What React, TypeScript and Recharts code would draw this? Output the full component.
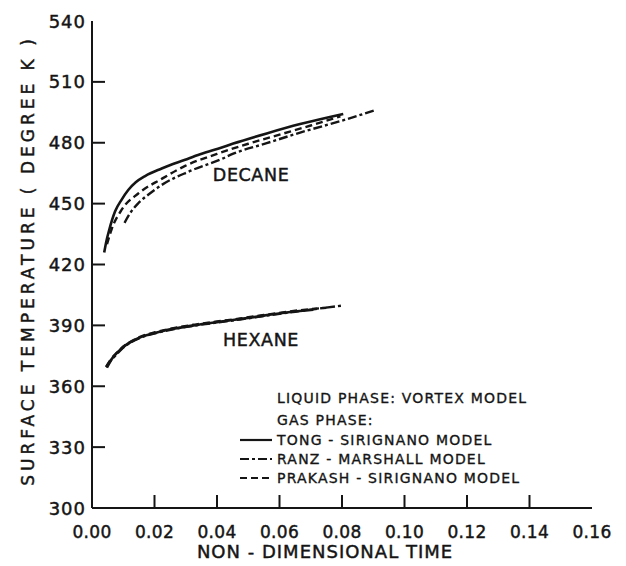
import React from 'react';
import { LineChart, Line, XAxis, YAxis, ReferenceDot } from 'recharts';

const INK = '#151515';
const FONT = "'DejaVu Sans', 'Liberation Sans', sans-serif";
const TEXT_STROKE = 0.45;

const xTickValues = [0, 0.02, 0.04, 0.06, 0.08, 0.1, 0.12, 0.14, 0.16];
const xTickLabels = ['0.00', '0.02', '0.04', '0.06', '0.08', '0.10', '0.12', '0.14', '0.16'];
const yTickValues = [300, 330, 360, 390, 420, 450, 480, 510, 540];

const xTitle = 'NON - DIMENSIONAL TIME';
const yTitle = 'SURFACE TEMPERATURE  ( DEGREE K )';

// DECANE
const decaneTongTime = [0.0039, 0.0046, 0.0055, 0.0074, 0.0095, 0.0116, 0.014, 0.017, 0.0223, 0.0298, 0.0346, 0.0415, 0.0452, 0.0559, 0.0666, 0.0804];
const decaneTongTemp = [425.9, 431.5, 437, 446.2, 452, 456.7, 460.5, 463.6, 467.3, 471.6, 474.3, 477.7, 479.6, 484.6, 489.2, 494.2];

const decanePrakashTime = [0.0048, 0.0063, 0.0095, 0.0148, 0.0223, 0.0298, 0.04, 0.05, 0.06, 0.07, 0.0795];
const decanePrakashTemp = [430, 437.5, 447, 455, 462.2, 468.6, 474.5, 479.5, 484, 488.5, 493];

const decaneRanzTime = [0.0104, 0.0125, 0.0148, 0.0185, 0.0223, 0.0308, 0.0415, 0.0452, 0.0559, 0.0666, 0.0815, 0.091];
const decaneRanzTemp = [440.5, 446, 450.2, 455, 459.2, 465.7, 472, 474.6, 479.8, 485, 491.6, 496.3];

// HEXANE
const hexaneTongTime = [0.0045, 0.006, 0.0074, 0.0095, 0.0116, 0.015, 0.0202, 0.026, 0.033, 0.04, 0.0474, 0.055, 0.0634, 0.0708];
const hexaneTongTemp = [369.4, 372.8, 375.5, 378.6, 381.1, 383.8, 386.3, 388.3, 390.1, 391.6, 393.1, 394.8, 396.6, 397.7];

const hexanePrakashTime = [0.0046, 0.006, 0.0076, 0.0095, 0.012, 0.015, 0.0202, 0.026, 0.033, 0.04, 0.0474, 0.055, 0.0634, 0.075];
const hexanePrakashTemp = [369.8, 373.2, 376, 378.9, 381.6, 384.1, 386.6, 388.6, 390.4, 391.9, 393.4, 395.1, 396.9, 398.7];

const hexaneRanzTime = [0.0048, 0.006, 0.0078, 0.0095, 0.012, 0.015, 0.0202, 0.026, 0.033, 0.04, 0.0474, 0.055, 0.0634, 0.0715, 0.0804];
const hexaneRanzTemp = [369.2, 372.4, 375.6, 378.3, 381.2, 383.6, 386.1, 388.1, 389.9, 391.4, 392.9, 394.6, 396.4, 398.1, 399.8];

const legendHeader = ['LIQUID PHASE: VORTEX MODEL', 'GAS PHASE:'];
const seriesNames = ['TONG - SIRIGNANO  MODEL', 'RANZ - MARSHALL  MODEL', 'PRAKASH - SIRIGNANO  MODEL'];
const seriesDash = ['', '9 3 3 3', '7 4'];

const zip = (ts: number[], ks: number[]) => ts.map((t, i) => ({ t, k: ks[i] }));

const series = [
  { key: 'dT', data: zip(decaneTongTime, decaneTongTemp), s: 0 },
  { key: 'dR', data: zip(decaneRanzTime, decaneRanzTemp), s: 1 },
  { key: 'dP', data: zip(decanePrakashTime, decanePrakashTemp), s: 2 },
  { key: 'hT', data: zip(hexaneTongTime, hexaneTongTemp), s: 0 },
  { key: 'hR', data: zip(hexaneRanzTime, hexaneRanzTemp), s: 1 },
  { key: 'hP', data: zip(hexanePrakashTime, hexanePrakashTemp), s: 2 },
];

const TICK = 13;

const BottomTick = (props: any) => {
  const { x, y, payload, index } = props;
  const axisY = y - 8;
  const v = payload.value;
  const inner = v > 0.0001 && v < 0.1599;
  return (
    <g>
      {inner && <line x1={x} x2={x} y1={axisY} y2={axisY - TICK} stroke={INK} strokeWidth={2} />}
      <text x={x} y={axisY + 30} textAnchor="middle" fill={INK} stroke={INK} strokeWidth={TEXT_STROKE}
        fontFamily={FONT} fontSize={17} letterSpacing={0.3}>
        {xTickLabels[index] ?? v.toFixed(2)}
      </text>
    </g>
  );
};

const LeftTick = (props: any) => {
  const { x, y, payload } = props;
  const axisX = x + 6;
  const v = payload.value;
  const inner = v > 300 && v < 540;
  return (
    <g>
      {inner && <line x1={axisX} x2={axisX + TICK} y1={y} y2={y} stroke={INK} strokeWidth={2} />}
      <text x={x} y={y + 6.5} textAnchor="end" fill={INK} stroke={INK} strokeWidth={TEXT_STROKE}
        fontFamily={FONT} fontSize={18} letterSpacing={1}>
        {v}
      </text>
    </g>
  );
};

const RightTick = (props: any) => {
  const { x, y, payload } = props;
  const v = payload.value;
  const inner = v > 300 && v < 540;
  return inner ? <line x1={x} x2={x - TICK} y1={y} y2={y} stroke={INK} strokeWidth={2} /> : <g />;
};

const YTitle = (props: any) => {
  const vb = props.viewBox;
  const cx = vb.x + 16;
  const cy = vb.y + vb.height / 2 - 4;
  return (
    <text x={cx} y={cy} transform={`rotate(-90 ${cx} ${cy})`} textAnchor="middle" dominantBaseline="central"
      fill={INK} stroke={INK} strokeWidth={TEXT_STROKE} fontFamily={FONT} fontSize={17} letterSpacing={4}>
      {yTitle}
    </text>
  );
};

const XTitle = (props: any) => {
  const vb = props.viewBox;
  return (
    <text x={vb.x + vb.width / 2 - 17} y={vb.y + 50} textAnchor="middle" fill={INK} stroke={INK} strokeWidth={TEXT_STROKE}
      fontFamily={FONT} fontSize={18} letterSpacing={1}>
      {xTitle}
    </text>
  );
};

const makeTag = (txt: string) => (props: any) => {
  const vb = props.viewBox;
  const cx = vb.x + (vb.width || 0) / 2;
  const cy = vb.y + (vb.height || 0) / 2;
  return (
    <text x={cx} y={cy} textAnchor="middle" dominantBaseline="central" fill={INK} stroke={INK} strokeWidth={TEXT_STROKE}
      fontFamily={FONT} fontSize={17.5} letterSpacing={0.6}>
      {txt}
    </text>
  );
};

const legendRow = (top: number, text: string, dash: string | null) => (
  <div key={text} style={{ position: 'absolute', left: 232, top: top - 10, height: 20, display: 'flex', alignItems: 'center', whiteSpace: 'nowrap' }}>
    <svg width={34} height={6} style={{ marginRight: 3, visibility: dash === null ? 'hidden' : 'visible' }}>
      <line x1={0} x2={32} y1={3} y2={3} stroke={INK} strokeWidth={2.2} strokeDasharray={dash || undefined} />
    </svg>
    <span style={{ fontFamily: FONT, fontSize: 14, letterSpacing: 1.2, color: INK, WebkitTextStroke: '0.35px #151515' }}>{text}</span>
  </div>
);

export default function App() {
  return (
    <div style={{ position: 'relative', width: 618, height: 558 }}>
      <LineChart width={618} height={558} margin={{ top: 13, right: 34, bottom: 0, left: 4 }}>
        <XAxis xAxisId="bottom" dataKey="t" type="number" domain={[0, 0.16]} allowDataOverflow ticks={xTickValues}
          interval={0} tick={<BottomTick />} tickSize={0} tickMargin={8} tickLine={false} height={58}
          axisLine={{ stroke: INK, strokeWidth: 2 }} label={<XTitle />} />
        <XAxis xAxisId="top" orientation="top" dataKey="t" type="number" domain={[0, 0.16]} allowDataOverflow
          ticks={xTickValues} tick={false} tickLine={false} height={0} axisLine={{ stroke: INK, strokeWidth: 2 }} />
        <YAxis yAxisId="left" type="number" domain={[300, 540]} allowDataOverflow ticks={yTickValues} interval={0}
          tick={<LeftTick />} tickSize={0} tickMargin={6} tickLine={false} width={80}
          axisLine={{ stroke: INK, strokeWidth: 2 }} label={<YTitle />} />
        <YAxis yAxisId="right" orientation="right" type="number" domain={[300, 540]} allowDataOverflow ticks={yTickValues}
          interval={0} tick={<RightTick />} tickSize={0} tickMargin={0} tickLine={false} width={0}
          axisLine={{ stroke: INK, strokeWidth: 2 }} />
        {series.map((s) => (
          <Line key={s.key} xAxisId="bottom" yAxisId="left" data={s.data} dataKey="k" type="monotone" dot={false}
            stroke={INK} strokeWidth={s.s === 0 ? 2.6 : 2.4} strokeDasharray={seriesDash[s.s] || undefined}
            isAnimationActive={false} />
        ))}
        <ReferenceDot xAxisId="bottom" yAxisId="left" x={0.0509} y={464.1} r={0} fill="none" stroke="none" label={makeTag('DECANE')} />
        <ReferenceDot xAxisId="bottom" yAxisId="left" x={0.0541} y={382.7} r={0} fill="none" stroke="none" label={makeTag('HEXANE')} />
      </LineChart>
      {legendRow(390, legendHeader[0], null)}
      {legendRow(412, legendHeader[1], null)}
      {seriesNames.map((n, i) => legendRow(432 + i * 19, n, seriesDash[i]))}
    </div>
  );
}
